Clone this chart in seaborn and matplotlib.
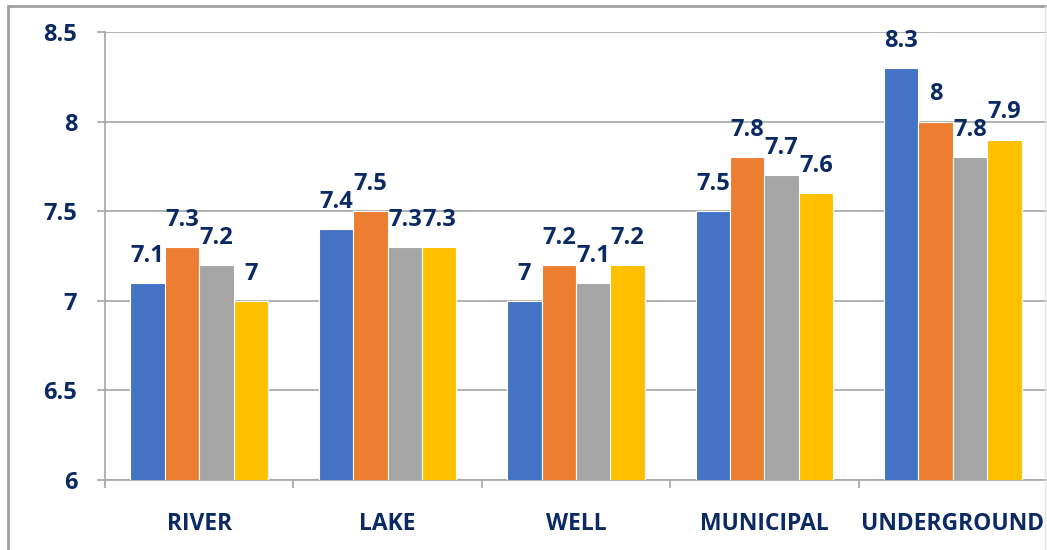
import pandas as pd
import matplotlib.pyplot as plt
import seaborn as sns
from matplotlib.lines import Line2D

# Dados do gráfico
categorias = ["RIVER", "LAKE", "WELL", "MUNICIPAL", "UNDERGROUND"]
series = ["Série 1", "Série 2", "Série 3", "Série 4"]
serie_1 = [7.1, 7.4, 7.0, 7.5, 8.3]
serie_2 = [7.3, 7.5, 7.2, 7.8, 8.0]
serie_3 = [7.2, 7.3, 7.1, 7.7, 7.8]
serie_4 = [7.0, 7.3, 7.2, 7.6, 7.9]
y_ticks = [6, 6.5, 7, 7.5, 8, 8.5]

# Configurações visuais
CORES = ["#4472C4", "#ED7D31", "#A5A5A5", "#FFC000"]
COR_TEXTO = "#0B2A63"
COR_GRADE = "#A6A6A6"
FONTE = "Open Sans"


def montar_df():
    linhas = []
    for nome, valores in zip(series, [serie_1, serie_2, serie_3, serie_4]):
        for cat, v in zip(categorias, valores):
            linhas.append({"categoria": cat, "serie": nome, "valor": v})
    return pd.DataFrame(linhas)


def main():
    sns.set_theme(style="white")
    plt.rcParams["font.family"] = [FONTE, "Liberation Sans", "DejaVu Sans"]
    plt.rcParams["font.weight"] = "bold"

    df = montar_df()
    fig = plt.figure(figsize=(10.47, 5.5), dpi=100)
    ax = fig.add_axes([105 / 1047, 1 - 480 / 550, 1 - 105 / 1047, (480 - 32) / 550])

    sns.barplot(data=df, x="categoria", y="valor", hue="serie", palette=CORES,
                saturation=1, width=0.73, ax=ax, edgecolor="white", linewidth=0.8,
                legend=False, zorder=3)

    ax.set_ylim(6, 8.5)
    ax.set_xlim(-0.5, len(categorias) - 0.5)
    ax.set_yticks(y_ticks)
    ax.set_yticklabels([f"{t:g}" for t in y_ticks], fontweight="bold")
    ax.set_xticks(range(len(categorias)))
    ax.set_xticklabels(categorias, fontweight="bold")
    ax.grid(axis="y", color=COR_GRADE, linewidth=1.2, zorder=0)
    ax.grid(axis="x", visible=False)

    for lado in ["top", "right"]:
        ax.spines[lado].set_visible(False)
    for lado in ["left", "bottom"]:
        ax.spines[lado].set_color(COR_GRADE)
        ax.spines[lado].set_linewidth(1.2)

    ax.tick_params(axis="y", length=6, width=1.2, color=COR_GRADE, pad=14,
                   labelsize=17, labelcolor=COR_TEXTO, left=True)
    ax.tick_params(axis="x", length=0, pad=23, labelsize=16.5, labelcolor=COR_TEXTO)
    ax.set_xticks([i - 0.5 for i in range(len(categorias))], minor=True)
    ax.tick_params(axis="x", which="minor", length=6, width=1.2, color=COR_GRADE,
                   bottom=True)
    ax.set_xlabel("")
    ax.set_ylabel("")

    # Rótulos de dados
    for cont in ax.containers:
        ax.bar_label(cont, labels=[f"{b.get_height():g}" for b in cont],
                     padding=11, fontsize=17, fontweight="bold", color=COR_TEXTO)

    # Moldura do gráfico
    fig.add_artist(Line2D([8 / 1047, 8 / 1047], [0, 1 - 6 / 550], transform=fig.transFigure,
                          color="#A0A0A0", linewidth=2))
    fig.add_artist(Line2D([8 / 1047, 1], [1 - 6 / 550, 1 - 6 / 550], transform=fig.transFigure,
                          color="#A0A0A0", linewidth=2))
    fig.add_artist(Line2D([1045 / 1047, 1045 / 1047], [0, 1 - 6 / 550], transform=fig.transFigure,
                          color="#E4E4E4", linewidth=1))

    fig.savefig("out.png", dpi=100, facecolor="white")


if __name__ == "__main__":
    main()
